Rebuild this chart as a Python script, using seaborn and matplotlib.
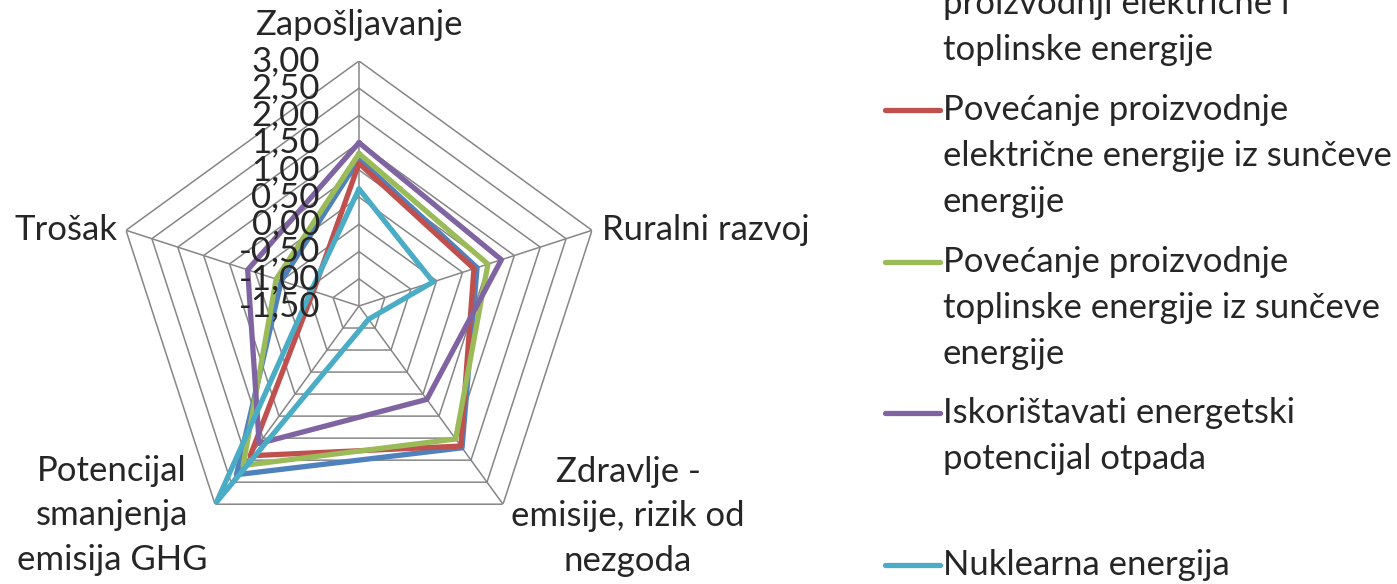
import numpy as np
import pandas as pd
import seaborn as sns
import matplotlib.pyplot as plt
from matplotlib.lines import Line2D

# axes of the radar, clockwise from the top
categories = ["Zapošljavanje", "Ruralni razvoj", "Zdravlje -\nemisije, rizik od\nnezgoda",
              "Potencijal\nsmanjenja\nemisija GHG", "Trošak"]

series_names = ["Biomasa", "Sunce - električna", "Sunce - toplinska", "Otpad", "Nuklearna"]
biomasa = [1.20, 0.78, 1.72, 2.33, 0.00]
sunce_el = [1.12, 0.72, 1.68, 1.90, -0.62]
sunce_top = [1.30, 0.99, 1.52, 2.12, 0.10]
otpad = [1.50, 1.25, 0.62, 1.62, 0.65]
nuklearna = [0.65, -0.07, -1.20, 2.95, -0.58]

legend_labels = ["proizvodnji električne i\ntoplinske energije",
                 "Povećanje proizvodnje\nelektrične energije iz sunčeve\nenergije",
                 "Povećanje proizvodnje\ntoplinske energije iz sunčeve\nenergije",
                 "Iskorištavati energetski\npotencijal otpada",
                 "Nuklearna energija"]

tick_values = [3.0, 2.5, 2.0, 1.5, 1.0, 0.5, 0.0, -0.5, -1.0, -1.5]
tick_labels = ["3,00", "2,50", "2,00", "1,50", "1,00", "0,50", "0,00", "-0,50", "-1,00", "-1,50"]

colors = ["#4F81BD", "#C0504D", "#9BBB59", "#8064A2", "#4BACC6"]
grid_color = "#868686"

sns.set_style("white")
plt.rcParams['font.family'] = ['Lato', 'DejaVu Sans']
FS = 25

W, H = 1397, 584
fig = plt.figure(figsize=(W / 100, H / 100), dpi=100)
cx, cy, R = 359, 306, 245
ax = fig.add_axes([(cx - R) / W, 1 - (cy + R) / H, 2 * R / W, 2 * R / H], projection="polar")
ax.set_theta_offset(np.pi / 2)
ax.set_theta_direction(-1)
ax.set_ylim(-1.5, 3.0)
ax.grid(False)
ax.spines["polar"].set_visible(False)
ax.set_xticks([])
ax.set_yticks([])
ax.patch.set_alpha(0)

n = len(categories)
theta = np.arange(n) * 2 * np.pi / n
theta_closed = np.append(theta, 2 * np.pi)

# pentagon grid
for r in tick_values[:-1]:
    ax.plot(theta_closed, [r] * (n + 1), color=grid_color, lw=1.1, zorder=1)
for t in theta:
    ax.plot([t, t], [-1.5, 3.0], color=grid_color, lw=1.1, zorder=1)

rows = []
for name, vals in zip(series_names, [biomasa, sunce_el, sunce_top, otpad, nuklearna]):
    vv = list(vals) + [vals[0]]
    for t, v in zip(theta_closed, vv):
        rows.append({"serija": name, "theta": t, "vrijednost": v})
df = pd.DataFrame(rows)

for i, name in enumerate(series_names):
    sub = df[df["serija"] == name]
    sns.lineplot(data=sub, x="theta", y="vrijednost", ax=ax, color=colors[i], lw=3.8,
                 sort=False, estimator=None, legend=False, zorder=3 + i)
ax.set_xlabel("")
ax.set_ylabel("")
ax.set_ylim(-1.5, 3.0)

# radial tick labels along top spoke
for v, lab in zip(tick_values, tick_labels):
    ax.annotate(lab, xy=(0, v), xytext=(-39, 0), textcoords="offset pixels",
                ha="right", va="center", fontsize=FS, zorder=10)

# category labels
offsets = [(0, 36, "center"), (10, 0, "left"), (125, -12, "center"),
           (-103, -11, "center"), (-8, 0, "right")]
for t, lab, (dx, dy, ha) in zip(theta, categories, offsets):
    ax.annotate(lab, xy=(t, 3.0), xytext=(dx, dy), textcoords="offset pixels",
                ha=ha, va="center", fontsize=FS, linespacing=1.48, multialignment="center")

# legend (Excel style, equal entry heights)
entry_y = [-42, 110, 262, 413, 565]
line_gap = 46
for i, (lab, y0) in enumerate(zip(legend_labels, entry_y)):
    lines = lab.split("\n")
    if i == 0:
        y_lines = [y0 + line_gap * (k + 1) for k in range(len(lines))]
    else:
        y_lines = [y0 + line_gap * k for k in range(len(lines))]
        fig.add_artist(Line2D([885 / W, 940 / W], [1 - y0 / H, 1 - y0 / H],
                              color=colors[i], lw=3.8, solid_capstyle="round"))
    for txt, yy in zip(lines, y_lines):
        fig.text(943 / W, 1 - yy / H, txt, ha="left", va="center", fontsize=FS)

fig.savefig("out.png", dpi=100)
